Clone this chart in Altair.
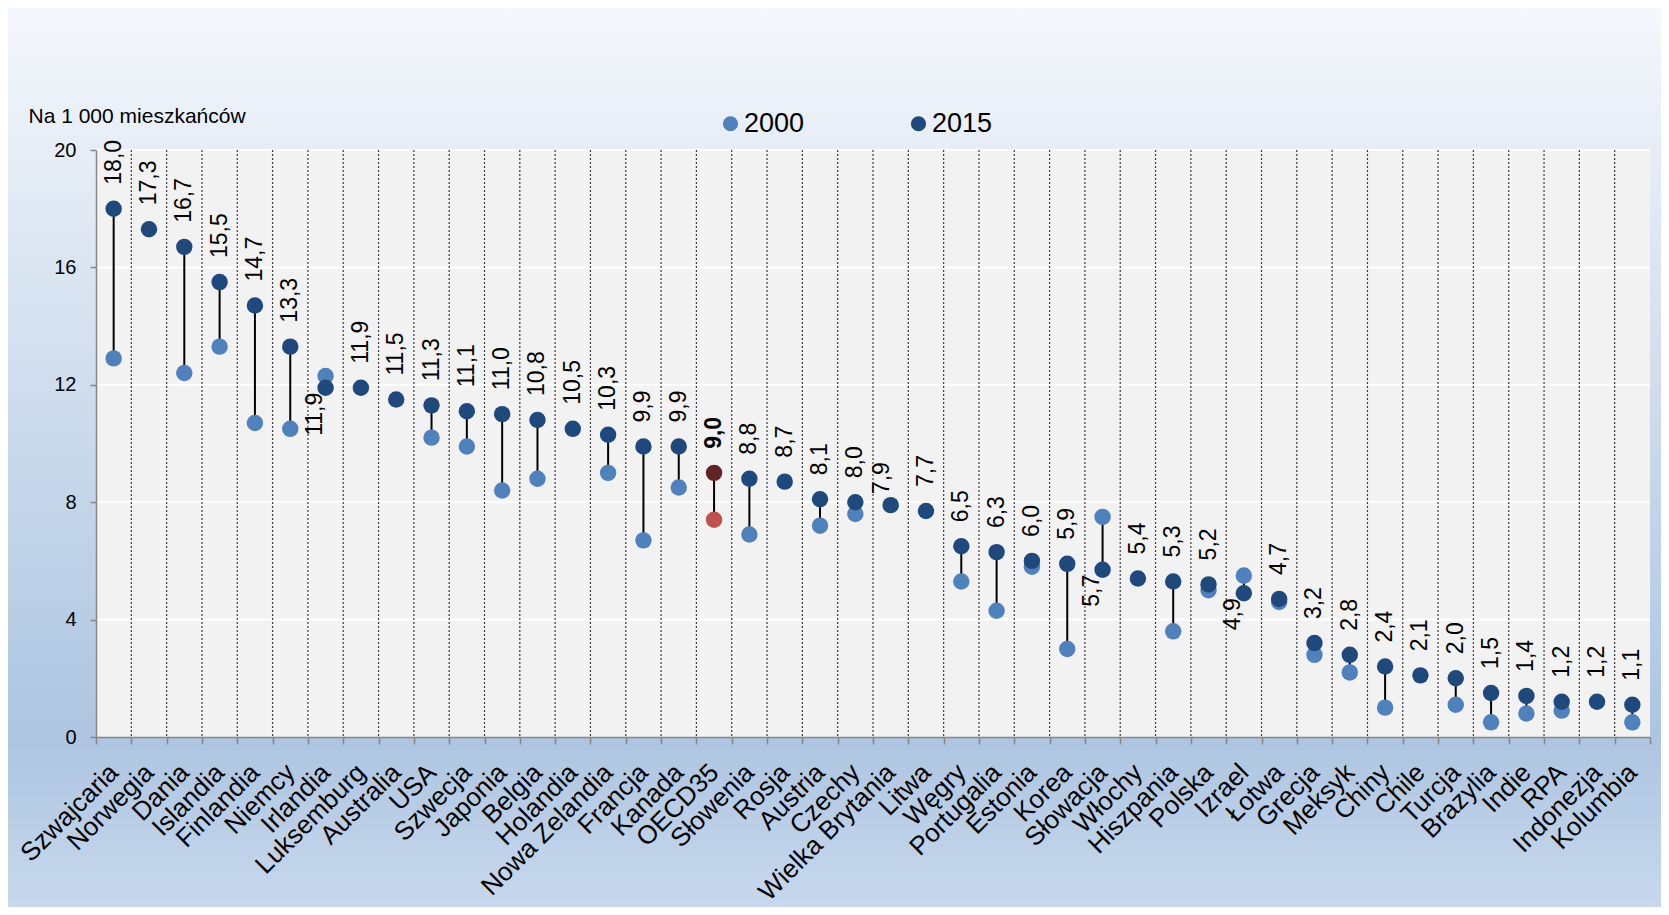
import altair as alt
import pandas as pd

kraje = ["Szwajcaria", "Norwegia", "Dania", "Islandia", "Finlandia", "Niemcy", "Irlandia",
         "Luksemburg", "Australia", "USA", "Szwecja", "Japonia", "Belgia", "Holandia",
         "Nowa Zelandia", "Francja", "Kanada", "OECD35", "Słowenia", "Rosja", "Austria",
         "Czechy", "Wielka Brytania", "Litwa", "Węgry", "Portugalia", "Estonia", "Korea",
         "Słowacja", "Włochy", "Hiszpania", "Polska", "Izrael", "Łotwa", "Grecja", "Meksyk",
         "Chiny", "Chile", "Turcja", "Brazylia", "Indie", "RPA", "Indonezja", "Kolumbia"]
v2015 = [18.0, 17.3, 16.7, 15.5, 14.7, 13.3, 11.9, 11.9, 11.5, 11.3, 11.1, 11.0, 10.8, 10.5,
         10.3, 9.9, 9.9, 9.0, 8.8, 8.7, 8.1, 8.0, 7.9, 7.7, 6.5, 6.3, 6.0, 5.9, 5.7, 5.4, 5.3,
         5.2, 4.9, 4.7, 3.2, 2.8, 2.4, 2.1, 2.0, 1.5, 1.4, 1.2, 1.2, 1.1]
v2000 = [12.9, None, 12.4, 13.3, 10.7, 10.5, 12.3, None, None, 10.2, 9.9, 8.4, 8.8, None,
         9.0, 6.7, 8.5, 7.4, 6.9, None, 7.2, 7.6, None, None, 5.3, 4.3, 5.8, 3.0, 7.5, None,
         3.6, 5.0, 5.5, 4.6, 2.8, 2.2, 1.0, None, 1.1, 0.5, 0.8, 0.9, None, 0.5]
lata = ["2000", "2015"]
siatka = [4, 8, 12, 16, 20]
podpis_osi = "Na 1 000 mieszkańców"
SREDNIA = "OECD35"
PRZESUNIETA = "Wielka Brytania"

F = "Liberation Sans"
W, H = 1554, 587
PAD = {"left": 88, "top": 142, "right": 11, "bottom": 170}

wide = pd.DataFrame({"kraj": kraje, "v2015": v2015, "v2000": v2000})
wide["etykieta"] = [f"{v:.1f}".replace(".", ",") for v in v2015]
wide["pod"] = [(a is not None and a > b) for a, b in zip(v2000, v2015)]

long = pd.DataFrame({"kraj": kraje * 2,
                     "rok": [lata[0]] * len(kraje) + [lata[1]] * len(kraje),
                     "wartosc": v2000 + v2015}).dropna()

xs = alt.Scale(type="band", domain=kraje, paddingInner=0, paddingOuter=0)
ys = alt.Scale(domain=[0, 20], nice=False, zero=True)

x_axis = alt.Axis(title=None, labelAngle=-45, labelAlign="right", labelBaseline="middle",
                  labelFont=F, labelFontSize=26, labelColor="#000000", labelPadding=24,
                  labelLimit=400, labelOverlap=False, tickBand="extent", ticks=True,
                  tickSize=7, tickColor="#868686", tickWidth=1.5, domainColor="#868686",
                  domainWidth=1.5, grid=False, zindex=2)
y_axis = alt.Axis(title=podpis_osi, titleAngle=0, titleX=-68, titleY=-28, titleAlign="left",
                  titleBaseline="alphabetic", titleFont=F, titleFontSize=21,
                  titleFontWeight="normal", titleColor="#000000",
                  values=[0, 4, 8, 12, 16, 20], labelFont=F, labelFontSize=20,
                  labelColor="#000000", labelPadding=14, tickSize=6, tickColor="#868686",
                  tickWidth=1.5, domainColor="#868686", domainWidth=1.5, grid=False, zindex=2)


def X(**kw):
    return alt.X("kraj:N", scale=xs, axis=x_axis, **kw)


def Y(field):
    return alt.Y(field, scale=ys, axis=y_axis)


one = pd.DataFrame({"a": [0]})

gradient = alt.LinearGradient(
    gradient="linear", x1=0, x2=0, y1=0, y2=1,
    stops=[alt.GradientStop(offset=0, color="#f5f8fc"),
           alt.GradientStop(offset=0.16, color="#e6edf6"),
           alt.GradientStop(offset=0.81, color="#adc5e1"),
           alt.GradientStop(offset=1, color="#c7d8ec")])

bg = alt.Chart(one).mark_rect(color=gradient).encode(
    x=alt.value(-PAD["left"]), x2=alt.value(W + PAD["right"]),
    y=alt.value(-PAD["top"]), y2=alt.value(H + PAD["bottom"]))

plot_bg = alt.Chart(one).mark_rect(color="#f2f2f2").encode(
    x=alt.value(0), x2=alt.value(W), y=alt.value(0), y2=alt.value(H))

grid = alt.Chart(pd.DataFrame({"g": siatka})).mark_rule(color="#ffffff", strokeWidth=2).encode(
    y=Y("g:Q"))

vlines = alt.Chart(pd.DataFrame({"kraj": kraje[1:]})).mark_rule(
    color="#3a3a3a", strokeWidth=1.2, strokeDash=[2, 2]).encode(
    x=X(bandPosition=0))

conn = alt.Chart(wide).transform_filter("datum.v2000 != null").mark_rule(
    color="#000000", strokeWidth=2).encode(
    x=X(), y=Y("v2000:Q"), y2="v2015:Q")

pts = alt.Chart(long).transform_filter(f"datum.kraj != '{SREDNIA}'").mark_circle(
    size=270, opacity=1).encode(
    x=X(), y=Y("wartosc:Q"),
    color=alt.Color("rok:N", scale=alt.Scale(domain=lata, range=["#4f81bd", "#1f497d"]),
                    legend=alt.Legend(orient="none", legendX=621, legendY=-40,
                                      direction="horizontal", title=None, symbolType="circle",
                                      symbolSize=230, symbolStrokeWidth=0, labelFont=F,
                                      labelFontSize=27, labelColor="#000000", labelOffset=0,
                                      columnPadding=100, padding=0)))

oecd = alt.Chart(long).transform_filter(f"datum.kraj == '{SREDNIA}'").mark_circle(
    size=270, opacity=1).encode(
    x=X(), y=Y("wartosc:Q"),
    color=alt.condition(f"datum.rok == '{lata[0]}'", alt.value("#c0504d"), alt.value("#632523")))

txt = dict(angle=270, baseline="middle", font=F, fontSize=23, color="#000000")

lab_up = alt.Chart(wide).transform_filter(
    f"!datum.pod && datum.kraj != '{SREDNIA}' && datum.kraj != '{PRZESUNIETA}'").mark_text(
    align="left", dx=24, **txt).encode(x=X(), y=Y("v2015:Q"), text="etykieta:N")

lab_shift = alt.Chart(wide).transform_filter(f"datum.kraj == '{PRZESUNIETA}'").mark_text(
    align="left", dx=11, dy=-9, **txt).encode(x=X(), y=Y("v2015:Q"), text="etykieta:N")

lab_down = alt.Chart(wide).transform_filter("datum.pod").mark_text(
    align="right", dx=-5, dy=-11, **txt).encode(x=X(), y=Y("v2015:Q"), text="etykieta:N")

lab_oecd = alt.Chart(wide).transform_filter(f"datum.kraj == '{SREDNIA}'").mark_text(
    align="left", dx=24, fontWeight="bold", **txt).encode(
    x=X(), y=Y("v2015:Q"), text="etykieta:N")

chart = alt.layer(bg, plot_bg, grid, vlines, conn, pts, oecd, lab_up, lab_shift, lab_down,
                  lab_oecd).properties(
    width=W, height=H, padding=PAD, autosize=alt.AutoSizeParams(type="none"),
    background="#ffffff"
).configure_view(stroke=None).configure(font=F)

chart.save("out.html", embed_options={"renderer": "svg", "actions": False})
